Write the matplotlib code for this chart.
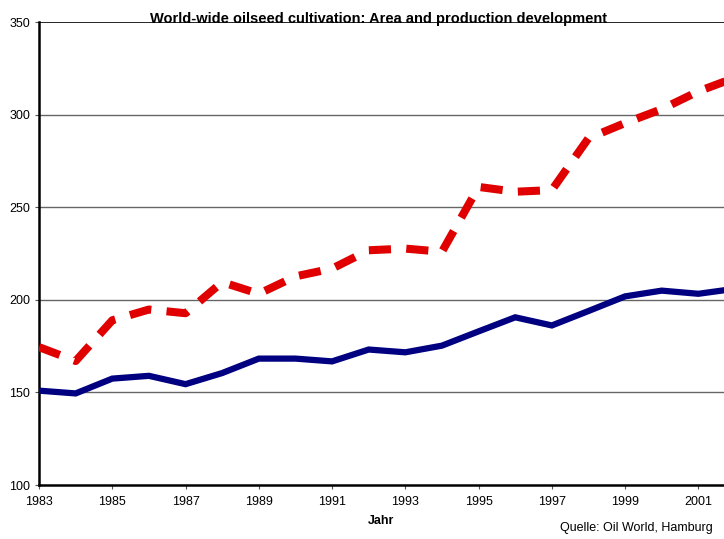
import matplotlib.pyplot as plt

plt.rcParams['font.family'] = ['Liberation Sans', 'DejaVu Sans']

years = list(range(1983, 2003))
area = [151, 149.5, 157.5, 159, 154.5, 160.5, 168.3, 168.3, 166.8, 173.2,
        171.7, 175.3, 183, 190.6, 186.2, 194, 201.9, 205, 203.3, 206]
production = [174.5, 167, 189, 194.8, 192.8, 209.6, 203.3, 212.7, 216.9, 226.8,
              227.7, 226, 261, 258.4, 259.3, 287.3, 295.5, 303, 312.6, 320]
xticks = list(range(1983, 2002, 2))
yticks = [100, 150, 200, 250, 300, 350]

fig = plt.figure(figsize=(7.24, 5.39), dpi=100)
ax = fig.add_axes([0.0539, 0.100, 0.9461, 0.859])

ax.plot(years, area, color='#000080', lw=4.5, solid_joinstyle='miter', zorder=3)
ax.plot(years, production, color='#e00000', lw=5.8,
        linestyle=(0, (2.75, 1.9)), dash_capstyle='butt', zorder=3)

ax.set_xlim(1983, 2001.7)
ax.set_ylim(100, 350)
ax.set_xticks(xticks)
ax.set_yticks(yticks)
ax.tick_params(labelsize=9, length=3, width=0.8, color='#555555')
ax.tick_params(axis='x', pad=5)

for v in [150, 200, 250, 300]:
    ax.axhline(v, color='#666666', lw=1.0, zorder=1)
ax.axhline(350, color='black', lw=1.2, zorder=1)

for s in ['top', 'right']:
    ax.spines[s].set_visible(False)
ax.spines['left'].set_linewidth(1.8)
ax.spines['bottom'].set_linewidth(1.8)

fig.text(0.523, 0.958, 'World-wide oilseed cultivation: Area and production development',
         ha='center', va='baseline', fontsize=10.5, fontweight='bold')
ax.set_xlabel('Jahr', fontsize=9, fontweight='bold', labelpad=5)
fig.text(0.985, 0.021, 'Quelle: Oil World, Hamburg', ha='right', va='center', fontsize=9)

fig.savefig('out.png', dpi=100)
